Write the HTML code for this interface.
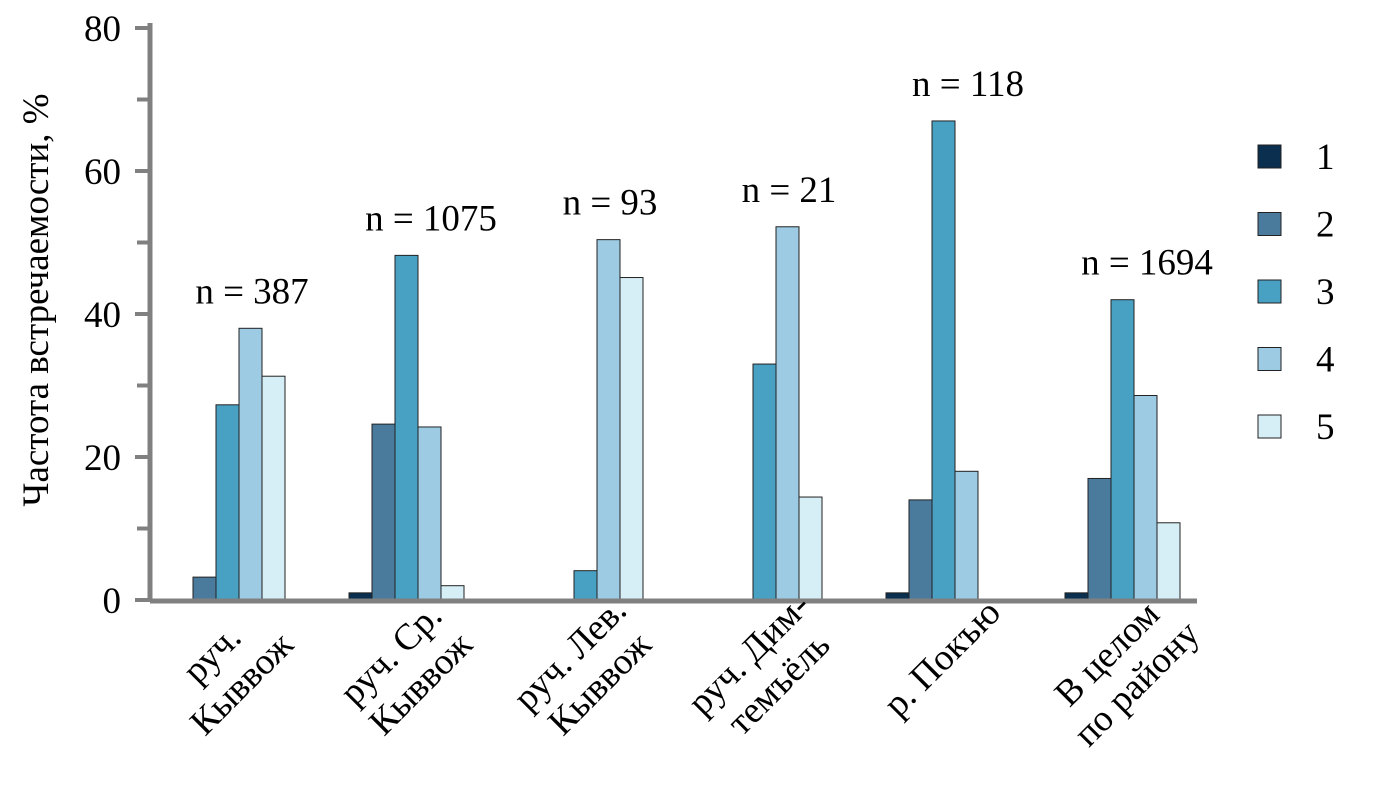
<!DOCTYPE html>
<html><head><meta charset="utf-8"><style>
html,body{margin:0;padding:0;background:#fff;}
svg{display:block;font-family:"Liberation Serif",serif;}
</style></head><body>
<svg id="chart" width="1383" height="795"></svg>
<script>
const categories=[["руч.","Кыввож"],["руч. Ср.","Кыввож"],["руч. Лев.","Кыввож"],["руч. Дим-","темъёль"],["р. Покъю"],["В целом","по району"]];
const nLabels=["n = 387","n = 1075","n = 93","n = 21","n = 118","n = 1694"];
const s1=[0,1,0,0,1,1];
const s2=[3.2,24.6,0,0,14,17];
const s3=[27.3,48.2,4.1,33,67,42];
const s4=[38,24.2,50.4,52.2,18,28.6];
const s5=[31.3,2,45.1,14.4,0,10.8];
const seriesNames=["1","2","3","4","5"];
const yTicks=[0,20,40,60,80];
const colors=["#0b2f4f","#4a7a9c","#48a0c3","#9ccbe3","#d6eef5"];
const series=[s1,s2,s3,s4,s5];
const NS="http://www.w3.org/2000/svg";
const svg=document.getElementById('chart');
const x0=150,x1=1197,y0=600,yTop=28,barW=23,groupStep=179,groupStart=170;
const FS=37;
const yS=v=>y0-(v/80)*(y0-yTop);
const gx=i=>groupStart+i*groupStep;
function mk(t,a){const e=document.createElementNS(NS,t);for(const k in a)e.setAttribute(k,a[k]);svg.appendChild(e);return e;}
for(let v=0;v<=80;v+=10){
  const t=mk('line',{x1:v%20===0?135:137,x2:x0,y1:yS(v),y2:yS(v),stroke:'#808080','stroke-width':4});
  
  
}
yTicks.forEach(v=>{
  const t=mk('text',{x:121,y:yS(v)+13,'text-anchor':'end','font-size':FS});
  t.textContent=v;
  
  
});
const yt=mk('text',{transform:'translate(48,300) rotate(-90)','text-anchor':'middle','font-size':37});
yt.textContent='Частота встречаемости, %';


series.forEach((s,si)=>{
  s.forEach((v,i)=>{
    if(v<=0)return;
    const r=mk('rect',{x:gx(i)+si*barW,y:yS(v),width:barW,height:y0-yS(v),fill:colors[si],stroke:'#222','stroke-width':1});
    
    
  });
});
const ya=mk('line',{x1:x0,x2:x0,y1:yTop-5,y2:y0+2,stroke:'#808080','stroke-width':5});


const xa=mk('line',{x1:x0,x2:x1,y1:y0+1,y2:y0+1,stroke:'#808080','stroke-width':5});


categories.forEach((c,i)=>{
  const mx=Math.max(s1[i],s2[i],s3[i],s4[i],s5[i]);
  const t=mk('text',{x:gx(i)+82,y:yS(mx)-25,'text-anchor':'middle','font-size':FS});
  t.textContent=nLabels[i];
  
  
  const cx=gx(i)+56, cy=c.length>1?668:658;
  const g=document.createElementNS(NS,'g');
  g.setAttribute('transform','translate('+cx+','+cy+') rotate(-45)');
  
  
  svg.appendChild(g);
  c.forEach((line,li)=>{
    const tt=document.createElementNS(NS,'text');
    const off=c.length>1?(li===0?-8:34):12;
    tt.setAttribute('x',0);tt.setAttribute('y',off);
    tt.setAttribute('text-anchor','middle');tt.setAttribute('font-size',FS);
    tt.textContent=line;
    
    
    g.appendChild(tt);
  });
});
seriesNames.forEach((n,si)=>{
  const cy=157+si*67.5;
  const r=mk('rect',{x:1258,y:cy-12,width:23,height:23,fill:colors[si],stroke:'#222','stroke-width':1});
  
  
  const t=mk('text',{x:1316,y:cy+12,'font-size':FS});
  t.textContent=n;
  
  
});
</script>
</body></html>
